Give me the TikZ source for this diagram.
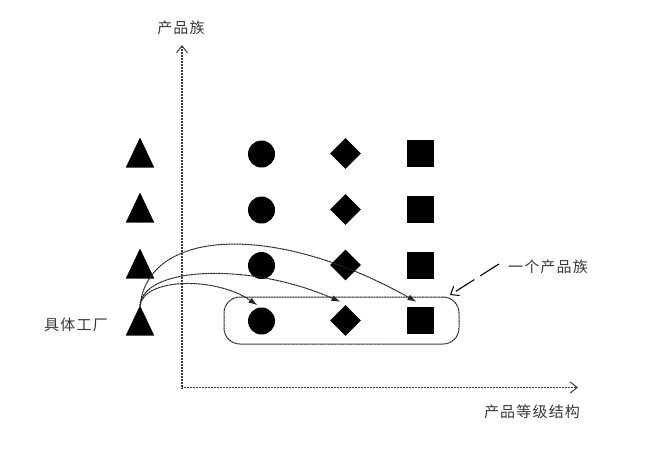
\documentclass[tikz,border=0pt]{standalone}
\usepackage{fontspec}
\newfontfamily\cjk[LetterSpace=8]{Noto Sans CJK SC}
\usetikzlibrary{shapes.geometric,arrows.meta}
\definecolor{txt}{HTML}{383838}
\tikzset{
  lbl/.style={font=\cjk\fontsize{15}{18}\selectfont, text=txt, inner sep=0pt},
  tri/.style={isosceles triangle, isosceles triangle stretches, shape border rotate=90,
    minimum width=28.5pt, minimum height=30pt, inner sep=0pt, fill=black, anchor=apex},
  dot/.style={circle, fill=black, minimum size=27pt, inner sep=0pt},
  dia/.style={diamond, fill=black, minimum size=31pt, inner sep=0pt},
  sq/.style={rectangle, fill=black, minimum size=27pt, inner sep=0pt},
  axis/.style={line width=1.1pt, draw=black!75, dash pattern=on 1pt off 0.5pt,
    -{Straight Barb[length=7pt,width=11pt,line width=1pt]}},
  link/.style={line width=1pt, draw=black!85, dash pattern=on 2.2pt off 0.5pt,
    -{Latex[length=9pt,width=6pt]}},
  family/.style={draw=black!85, line width=1pt, dash pattern=on 2.2pt off 0.5pt, rounded corners=16pt,
    minimum width=235pt, minimum height=47pt, inner sep=0pt},
  pointer/.style={line width=1.1pt, dash pattern=on 22pt off 7pt,
    -{Straight Barb[length=7pt,width=11pt,line width=1pt]}}
}
\begin{document}
\begin{tikzpicture}[x=1pt,y=-1pt]
\useasboundingbox (0,0) rectangle (653,456);
% axes
\coordinate (O) at (182,387.5);
\coordinate (ytop) at (182,45);
\coordinate (xend) at (578,387.5);
\draw[axis] ([yshift=-1pt]O) -- (ytop);
\draw[axis] (O) -- (xend);
\node[lbl] (ylab) at (181,28) {产品族};
\node[lbl] (xlab) at (532,412) {产品等级结构};
% family box
\node[family] (box) at (341.5,320.5) {};
% triangles
\node[tri] (t1) at (140,137) {};
\node[tri] (t2) at (140,192) {};
\node[tri] (t3) at (140,248) {};
\coordinate (src) at (140,306);
% circles
\node[dot] (c1) at (261.5,154) {};
\node[dot] (c2) at (261.5,210) {};
\node[dot] (c3) at (261.5,265.5) {};
\node[dot] (c4) at (261.5,321) {};
% diamonds
\node[dia] (d1) at (345.5,153.5) {};
\node[dia] (d2) at (345.5,209.5) {};
\node[dia] (d3) at (345.5,265) {};
\node[dia] (d4) at (345.5,320.5) {};
% squares
\node[sq] (s1) at (420.5,153.5) {};
\node[sq] (s2) at (420.5,209.5) {};
\node[sq] (s3) at (420.5,265) {};
\node[sq] (s4) at (420.5,320.5) {};
% links
\draw[link] (src) .. controls (148,228) and (275,222) .. ([xshift=-4pt,yshift=5pt]s4.north);
\draw[link] (src) .. controls (142,266) and (250,262) .. ([xshift=-5pt,yshift=3pt]d4.north);
\draw[link] (src) .. controls (143,278) and (215,276) .. ([xshift=-4pt,yshift=2pt]c4.north);
\node[tri] (t4) at (140,305) {};
\node[lbl] (fac) at (76,325) {具体工厂};
% pointer
\node[lbl] (flab) at (548,267) {一个产品族};
\coordinate (ptip) at (450,295);
\draw[pointer] ([xshift=-9pt,yshift=3pt]flab.west) -- (ptip);
\end{tikzpicture}
\end{document}
